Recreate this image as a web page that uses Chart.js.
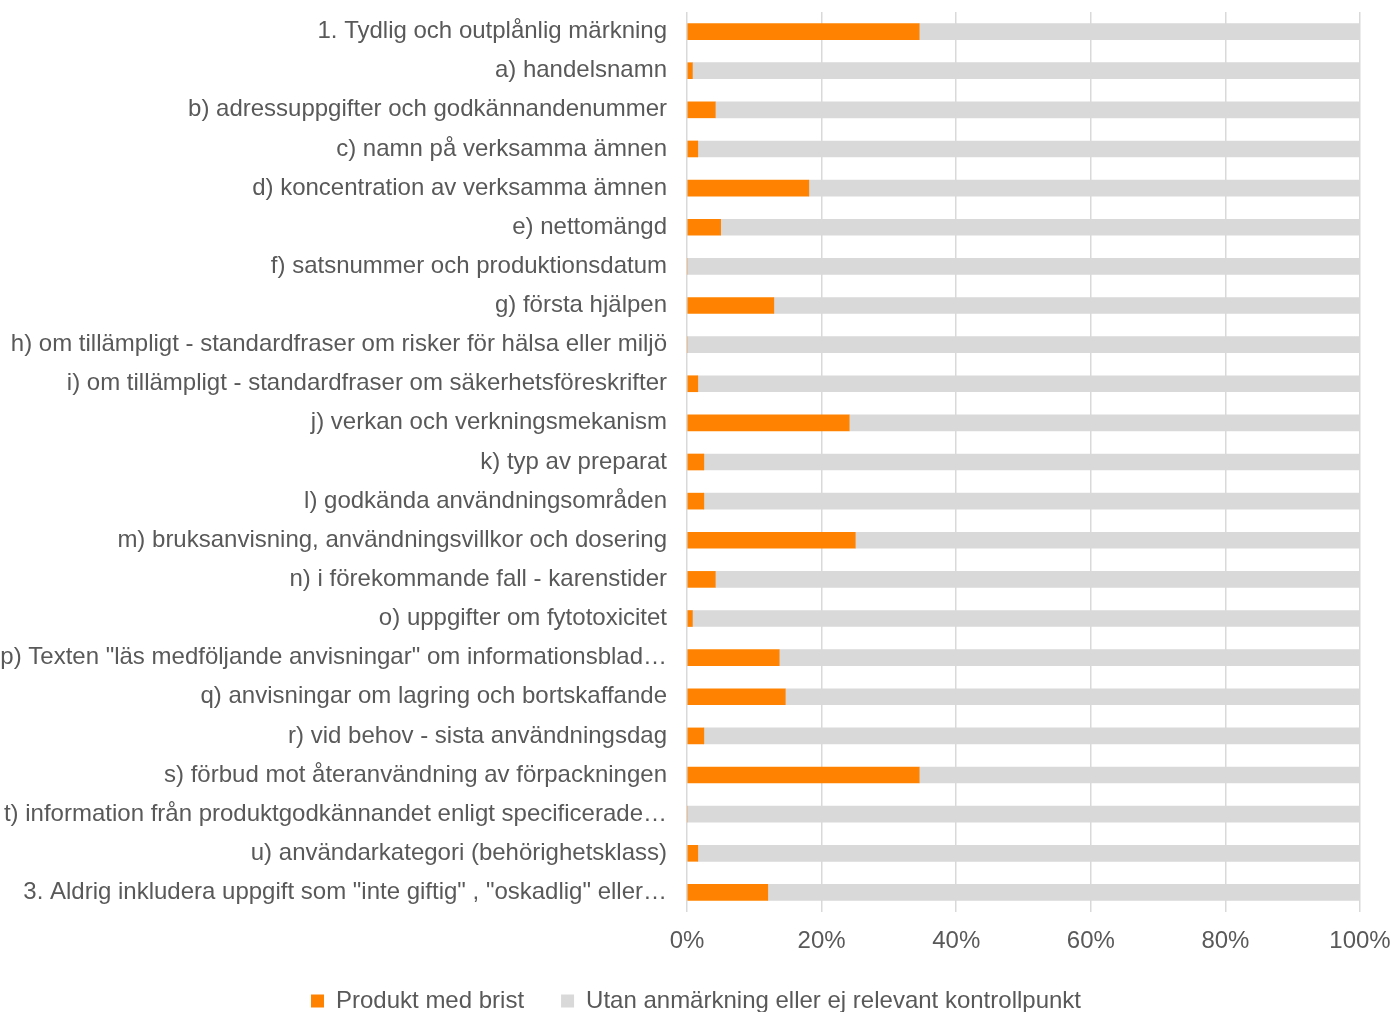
<!DOCTYPE html>
<html>
<head>
<meta charset="utf-8">
<script src="https://cdn.jsdelivr.net/npm/chart.js@4"></script>
<style>
  html, body { margin: 0; padding: 0; background: #fff; overflow: hidden; }
  #wrap { width: 1392px; height: 1023px; }
</style>
</head>
<body>
<div id="wrap"><canvas id="chart"></canvas></div>
<script>
// Kontrollpunkter
const categories = [
    '1. Tydlig och outplånlig märkning',
    'a) handelsnamn',
    'b) adressuppgifter och godkännandenummer',
    'c) namn på verksamma ämnen',
    'd) koncentration av verksamma ämnen',
    'e) nettomängd',
    'f) satsnummer och produktionsdatum',
    'g) första hjälpen',
    'h) om tillämpligt - standardfraser om risker för hälsa eller miljö',
    'i) om tillämpligt - standardfraser om säkerhetsföreskrifter',
    'j) verkan och verkningsmekanism',
    'k) typ av preparat',
    'l) godkända användningsområden',
    'm) bruksanvisning, användningsvillkor och dosering',
    'n) i förekommande fall - karenstider',
    'o) uppgifter om fytotoxicitet',
    'p) Texten "läs medföljande anvisningar" om informationsblad…',
    'q) anvisningar om lagring och bortskaffande',
    'r) vid behov - sista användningsdag',
    's) förbud mot återanvändning av förpackningen',
    't) information från produktgodkännandet enligt specificerade…',
    'u) användarkategori (behörighetsklass)',
    '3. Aldrig inkludera uppgift som "inte giftig" , "oskadlig" eller…'
];

// andel i procent
const medBrist = [34.5, 0.8, 4.2, 1.6, 18.1, 5.0, 0, 12.9, 0, 1.6, 24.1, 2.5, 2.5, 25.0, 4.2, 0.8, 13.7, 14.6, 2.5, 34.5, 0, 1.6, 12.0];
const utanAnmarkning = [65.5, 99.2, 95.8, 98.4, 81.9, 95.0, 100, 87.1, 100, 98.4, 75.9, 97.5, 97.5, 75.0, 95.8, 99.2, 86.3, 85.4, 97.5, 65.5, 100, 98.4, 88.0];

const xTicks = [0, 20, 40, 60, 80, 100];

const textColor = '#595959';
const fontFamily = '"Liberation Sans", Arial, sans-serif';

new Chart(document.getElementById('chart').getContext('2d'), {
    type: 'bar',
    data: {
        labels: categories,
        datasets: [{
            label: 'Produkt med brist',
            data: medBrist,
            backgroundColor: '#ff8300',
            barThickness: 16
        }, {
            label: 'Utan anmärkning eller ej relevant kontrollpunkt',
            data: utanAnmarkning,
            backgroundColor: '#d9d9d9',
            barThickness: 16
        }]
    },
    options: {
        indexAxis: 'y',
        responsive: true,
        maintainAspectRatio: false,
        animation: false,
        layout: { padding: { top: 12, right: 0, left: 0, bottom: 0 } },
        scales: {
            x: {
                stacked: true,
                min: 0,
                max: 100,
                afterBuildTicks: function(scale) {
                    scale.ticks = xTicks.map(v => ({ value: v }));
                },
                afterFit: function(scale) {
                    scale.height = 40;
                    scale.paddingLeft = 0;
                    scale.paddingRight = 32;
                },
                grid: { color: '#d9d9d9', lineWidth: 1.5, drawTicks: false },
                border: { display: false },
                ticks: {
                    padding: 17,
                    color: textColor,
                    font: { family: fontFamily, size: 24, lineHeight: 1 },
                    callback: v => v + '%'
                }
            },
            y: {
                stacked: true,
                afterFit: function(scale) {
                    scale.width = 687;
                    scale.paddingTop = 0;
                    scale.paddingBottom = 0;
                },
                grid: { display: false, drawTicks: false },
                border: { display: false },
                ticks: {
                    padding: 20,
                    autoSkip: false,
                    color: textColor,
                    font: { family: fontFamily, size: 24 }
                }
            }
        },
        plugins: {
            legend: {
                position: 'bottom',
                labels: {
                    boxWidth: 13,
                    boxHeight: 13,
                    padding: 37,
                    color: textColor,
                    font: { family: fontFamily, size: 24 }
                }
            },
            tooltip: { enabled: false }
        }
    }
});
</script>
</body>
</html>
